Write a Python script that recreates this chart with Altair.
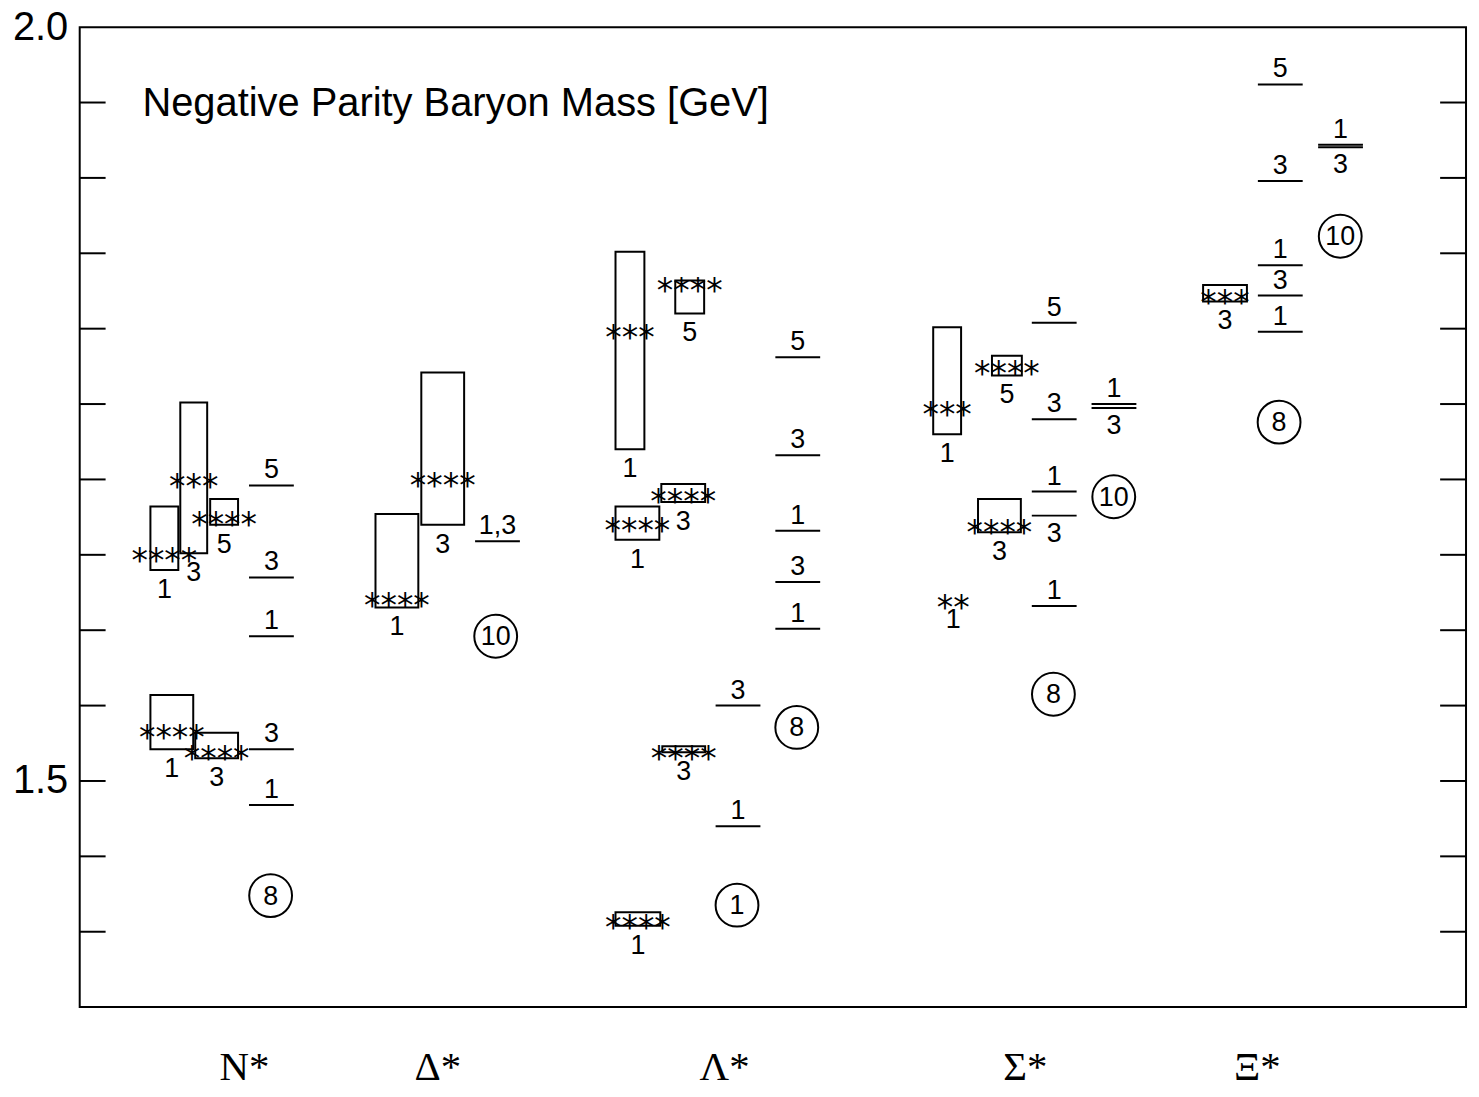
import altair as alt
import pandas as pd

TITLE = "Negative Parity Baryon Mass [GeV]"

# bottom category labels and their slot positions along the x axis
group_names = ["N*", "Δ*", "Λ*", "Σ*", "Ξ*"]
group_pos = [165, 359, 647, 949, 1182]

# ---- experimental resonances (boxes = mass range, stars = rating, J label = 2J) ----
box_x0 = [71, 101, 131, 71, 116, 297, 343, 538, 598, 584, 538, 585, 538, 857, 916, 902, 877, 1128]
box_x1 = [99, 128, 159, 114, 159, 340, 386, 567, 627, 628, 582, 628, 583, 885, 946, 945, 877, 1172]
box_lo = [1.640, 1.651, 1.670, 1.521, 1.515, 1.615, 1.670, 1.720, 1.810, 1.685, 1.660, 1.519, 1.404,
          1.730, 1.769, 1.665, 1.620, 1.818]
box_hi = [1.682, 1.751, 1.687, 1.557, 1.532, 1.677, 1.771, 1.851, 1.832, 1.697, 1.682, 1.523, 1.413,
          1.801, 1.782, 1.687, 1.620, 1.829]
box_mass = [1.651, 1.700, 1.675, 1.534, 1.520, 1.621, 1.701, 1.799, 1.830, 1.690, 1.671, 1.520, 1.408,
            1.748, 1.775, 1.670, 1.620, 1.822]
box_stars = ["****", "***", "****", "****", "****", "****", "****", "***", "****", "****", "****",
             "****", "****", "***", "****", "****", "**", "***"]
box_J = ["1", "3", "5", "1", "3", "1", "3", "1", "5", "3", "1", "3", "1", "1", "5", "3", "1", "3"]

# ---- model levels (short horizontal lines) ----
lvl_col = [192.5, 192.5, 192.5, 192.5, 192.5,
           419.5,
           661, 661,
           721, 721, 721, 721, 721,
           978.5, 978.5, 978.5, 978.5, 978.5,
           1038.5, 1038.5,
           1205.5, 1205.5, 1205.5, 1205.5, 1205.5,
           1266, 1266]
lvl_mass = [1.696, 1.635, 1.596, 1.521, 1.484,
            1.659,
            1.550, 1.470,
            1.781, 1.716, 1.666, 1.632, 1.601,
            1.804, 1.740, 1.692, 1.676, 1.616,
            1.750, 1.7474,
            1.962, 1.898, 1.842, 1.822, 1.798,
            1.922, 1.9203]
lvl_J = ["5", "3", "1", "3", "1",
         "1,3",
         "3", "1",
         "5", "3", "1", "3", "1",
         "5", "3", "1", "3", "1",
         "1", "3",
         "5", "3", "1", "3", "1",
         "1", "3"]
lvl_side = ["a", "a", "a", "a", "a",
            "a",
            "a", "a",
            "a", "a", "a", "a", "a",
            "a", "a", "a", "b", "a",
            "a", "b",
            "a", "a", "a", "a", "a",
            "a", "b"]

# ---- multiplet markers (circled numbers) ----
circ_col = [191.7, 417.7, 660, 720, 1038.3, 977.7, 1265.7, 1204.3]
circ_mass = [1.424, 1.596, 1.4176, 1.5355, 1.6885, 1.5575, 1.8613, 1.738]
circ_label = ["8", "10", "1", "8", "10", "8", "10", "8"]

tick_values = [1.40, 1.45, 1.50, 1.55, 1.60, 1.65, 1.70, 1.75, 1.80, 1.85, 1.90, 1.95]
ylabel_values = [1.5, 2.0]

# ---------------------------------------------------------------------------
W, H = 1392, 984
HALF = 22.5
TICK = 26
SANS = "Liberation Sans"
SERIF = "Liberation Serif"
STARFONT = "DejaVu Sans"

boxes = pd.DataFrame({"x0": box_x0, "x1": box_x1, "lo": box_lo, "hi": box_hi,
                      "m": box_mass, "stars": box_stars, "J": box_J})
boxes["xc"] = (boxes["x0"] + boxes["x1"]) / 2
levels = pd.DataFrame({"xc": lvl_col, "m": lvl_mass, "J": lvl_J, "side": lvl_side})
levels["x0"] = levels["xc"] - HALF
levels["x1"] = levels["xc"] + HALF
circles = pd.DataFrame({"xc": circ_col, "m": circ_mass, "lab": circ_label})
ticks = pd.DataFrame({"m": tick_values})

label_expr = " : ".join(f"datum.value == {p} ? '{n}'" for p, n in zip(group_pos, group_names)) + " : ''"

XS = alt.Scale(domain=[0, W], nice=False, zero=False)
YS = alt.Scale(domain=[1.35, 2.0], nice=False, zero=False)
XAX = alt.Axis(values=group_pos, labelExpr=label_expr, ticks=False, domain=False, grid=False,
               labelFont=SERIF, labelFontSize=41, labelPadding=41, labelColor="black",
               labelFlush=False, title=None)
YAX = alt.Axis(values=ylabel_values, format=".1f", ticks=False, domain=False, grid=False,
               labelFont=SANS, labelFontSize=40, labelPadding=12, labelColor="black", title=None)


def X(f):
    return alt.X(f, type="quantitative", scale=XS, axis=XAX)


def Y(f):
    return alt.Y(f, type="quantitative", scale=YS, axis=YAX)


tick_l = alt.Chart(ticks).mark_rule(color="black", strokeWidth=2).encode(
    y=Y("m"), x=alt.value(0), x2=alt.value(TICK))
tick_r = alt.Chart(ticks).mark_rule(color="black", strokeWidth=2).encode(
    y=Y("m"), x=alt.value(W - TICK), x2=alt.value(W))

rects = alt.Chart(boxes).transform_filter("datum.hi > datum.lo").mark_rect(
    fillOpacity=0, stroke="black", strokeWidth=2).encode(
    x=X("x0"), x2="x1", y=Y("lo"), y2="hi")

stars = alt.Chart(boxes).mark_text(font=STARFONT, fontSize=33, align="center",
                                   baseline="middle", dy=9, color="black").encode(
    x=X("xc"), y=Y("m"), text="stars:N")

jlab = alt.Chart(boxes).mark_text(font=SANS, fontSize=27, align="center",
                                  baseline="middle", dy=20, color="black").encode(
    x=X("xc"), y=Y("lo"), text="J:N")

lvl_rules = alt.Chart(levels).mark_rule(color="black", strokeWidth=2).encode(
    x=X("x0"), x2="x1", y=Y("m"))

lvl_above = alt.Chart(levels).transform_filter("datum.side == 'a'").mark_text(
    font=SANS, fontSize=27, align="center", baseline="middle", dy=-15, color="black").encode(
    x=X("xc"), y=Y("m"), text="J:N")
lvl_below = alt.Chart(levels).transform_filter("datum.side == 'b'").mark_text(
    font=SANS, fontSize=27, align="center", baseline="middle", dy=18, color="black").encode(
    x=X("xc"), y=Y("m"), text="J:N")

circ = alt.Chart(circles).mark_point(shape="circle", size=1849, filled=False, stroke="black",
                                     strokeWidth=2, opacity=1).encode(
    x=X("xc"), y=Y("m"))
circ_txt = alt.Chart(circles).mark_text(font=SANS, fontSize=27, align="center",
                                        baseline="middle", dy=1, color="black").encode(
    x=X("xc"), y=Y("m"), text="lab:N")

title = alt.Chart(pd.DataFrame({"t": [TITLE]})).mark_text(
    font=SANS, fontSize=40, align="left", baseline="middle", color="black").encode(
    x=alt.value(63), y=alt.value(77), text="t:N")

chart = alt.layer(tick_l, tick_r, rects, lvl_rules, stars, jlab, lvl_above, lvl_below,
                  circ, circ_txt, title).properties(
    width=W, height=H,
    autosize=alt.AutoSizeParams(type="none"),
    padding={"left": 72, "top": 17, "right": 5, "bottom": 80},
).configure_view(stroke="black", strokeWidth=2)

chart.save("out.html", embed_options={"renderer": "svg", "actions": False})
